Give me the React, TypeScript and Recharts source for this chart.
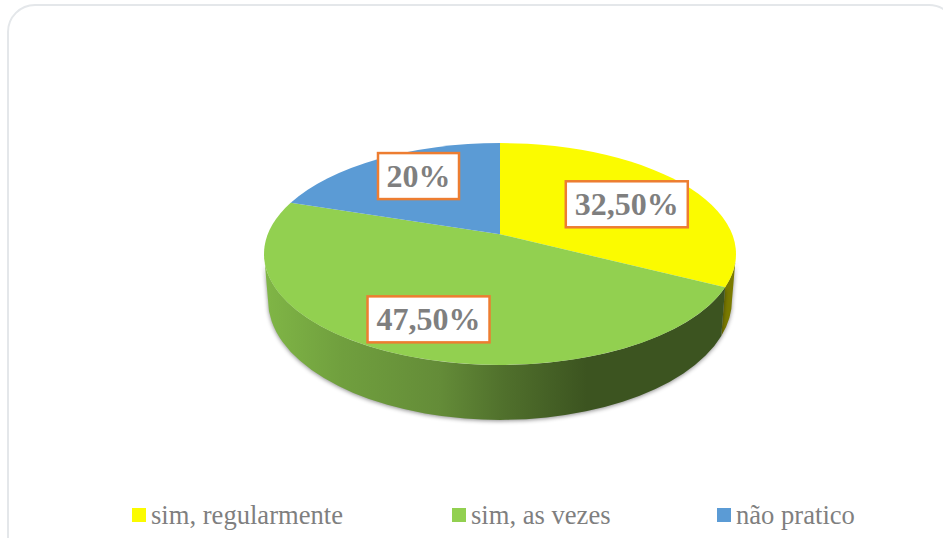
import { PieChart, Pie, Legend } from 'recharts';

const categories = ['sim, regularmente', 'sim, as vezes', 'não pratico'];
const values = [32.5, 47.5, 20];
const valueLabels = ['32,50%', '47,50%', '20%'];
const topColors = ['#FBFB00', '#92D050', '#5B9BD5'];
const wallColors = ['#7A7A00', 'url(#greenWall)', '#3F6EA0'];
const legendGaps = [320, 265, 200];

const data = categories.map((name, i) => ({ name, value: values[i], fill: topColors[i], wall: wallColors[i] }));

// the pie is seen at a tilt: angles are pulled forward and the rim is an ellipse
const TILT = 0.835;
const SQUASH = 0.47;
const BASE_RX = 0.983;
const BASE_RY = 0.508;
const BASE_DROP = 0.195;
// hand placed data labels, as in the original
const LABEL_NUDGE = [[0, 6], [3, 2], [2, -5]];

const rad = (d: number) => (d * Math.PI) / 180;
const warp = (clockwise: number) => (2 * Math.atan2(TILT * Math.sin(rad(clockwise / 2)), Math.cos(rad(clockwise / 2))) * 180) / Math.PI;
const rim = (cx: number, cy: number, rx: number, ry: number, t: number) => [cx + rx * Math.sin(rad(t)), cy - ry * Math.cos(rad(t))];
const apexY = (cy: number, r: number) => cy - r * SQUASH * ((1 - TILT * TILT) / (1 + TILT * TILT));

function TopSlice(props: any) {
  const { cx, cy, outerRadius: r, startAngle, endAngle, fill } = props;
  const t0 = warp(90 - startAngle);
  const t1 = warp(90 - endAngle);
  const ry = r * SQUASH;
  const [x0, y0] = rim(cx, cy, r, ry, t0);
  const [x1, y1] = rim(cx, cy, r, ry, t1);
  const large = t1 - t0 > 180 ? 1 : 0;
  return <path d={`M${cx},${apexY(cy, r)} L${x0},${y0} A${r},${ry} 0 ${large} 1 ${x1},${y1} Z`} fill={fill} />;
}

function WallSlice(props: any) {
  const { cx, cy, outerRadius: r, startAngle, endAngle, payload } = props;
  const t0 = Math.max(warp(90 - startAngle), 90);
  const t1 = Math.min(warp(90 - endAngle), 270);
  if (t1 <= t0) return null;
  const ry = r * SQUASH;
  const bx = r * BASE_RX;
  const by = r * BASE_RY;
  const bcy = cy + r * BASE_DROP;
  const [x0, y0] = rim(cx, cy, r, ry, t0);
  const [x1, y1] = rim(cx, cy, r, ry, t1);
  const [x2, y2] = rim(cx, bcy, bx, by, t1);
  const [x3, y3] = rim(cx, bcy, bx, by, t0);
  return (
    <path
      d={`M${x0},${y0} A${r},${ry} 0 0 1 ${x1},${y1} L${x2},${y2} A${bx},${by} 0 0 0 ${x3},${y3} Z`}
      fill={payload?.wall}
      style={{ filter: 'drop-shadow(0 1px 2px rgba(0,0,0,0.45))' }}
    />
  );
}

function ValueLabel(props: any) {
  const { cx, cy, outerRadius: r, midAngle, index } = props;
  const [ex, ey] = rim(cx, cy, r, r * SQUASH, warp(90 - midAngle));
  const ay = apexY(cy, r);
  const x = cx + (ex - cx) * 0.7 + LABEL_NUDGE[index][0];
  const y = ay + (ey - ay) * 0.7 + LABEL_NUDGE[index][1];
  const text = valueLabels[index];
  const w = text.length > 3 ? 122 : 81;
  return (
    <g>
      <rect x={x - w / 2} y={y - 23} width={w} height={46} fill="#fff" stroke="#ED7D31" strokeWidth={2.5} />
      <text x={x} y={y + 11} textAnchor="middle" fontFamily="'Liberation Serif', serif" fontWeight="bold" fontSize={32} fill="#7F7F7F">
        {text}
      </text>
    </g>
  );
}

function LegendRow({ payload }: any) {
  // both pies report their slices, keep one entry per category in data order
  const items = categories.map((name) => (payload || []).find((p: any) => p.value === name)).filter(Boolean);
  return (
    <div style={{ display: 'flex', fontFamily: "'Liberation Serif', serif", fontSize: 26.6, color: '#7F7F7F', lineHeight: '30px' }}>
      {items.map((item: any, i: number) => (
        <div key={item.value} style={{ width: legendGaps[i], display: 'flex', alignItems: 'center', whiteSpace: 'nowrap' }}>
          <span style={{ width: 14, height: 14, marginRight: 5, background: item.color }} />
          {item.value}
        </div>
      ))}
    </div>
  );
}

export default function App() {
  return (
    <div style={{ position: 'fixed', left: 0, top: 0, width: 943, height: 538, overflow: 'hidden', background: '#fff' }}>
      <div
        style={{
          position: 'absolute',
          left: 7,
          top: 4,
          width: 950,
          height: 570,
          boxSizing: 'border-box',
          border: '2px solid #E4E7EA',
          borderRadius: 28,
        }}
      />
      <div style={{ position: 'absolute', left: 0, top: 0 }}>
        <PieChart width={943} height={538} margin={{ top: 0, right: 0, bottom: 0, left: 0 }}>
          <defs>
            <linearGradient id="greenWall" x1="0" y1="0" x2="1" y2="0">
              <stop offset="0" stopColor="#80B646" />
              <stop offset="0.17" stopColor="#709F3E" />
              <stop offset="0.38" stopColor="#648C38" />
              <stop offset="0.52" stopColor="#50702C" />
              <stop offset="0.7" stopColor="#3C5420" />
              <stop offset="1" stopColor="#3C5420" />
            </linearGradient>
          </defs>
          <Pie
            data={data}
            dataKey="value"
            nameKey="name"
            cx={500}
            cy={254}
            outerRadius={236}
            startAngle={90}
            endAngle={-270}
            legendType="none"
            shape={WallSlice}
            stroke="none"
            isAnimationActive={false}
          />
          <Pie
            data={data}
            dataKey="value"
            nameKey="name"
            cx={500}
            cy={254}
            outerRadius={236}
            startAngle={90}
            endAngle={-270}
            shape={TopSlice}
            label={ValueLabel}
            labelLine={false}
            stroke="none"
            isAnimationActive={false}
          />
          <Legend content={LegendRow} wrapperStyle={{ left: 132, top: 500, bottom: 'auto', width: 800 }} />
        </PieChart>
      </div>
    </div>
  );
}
